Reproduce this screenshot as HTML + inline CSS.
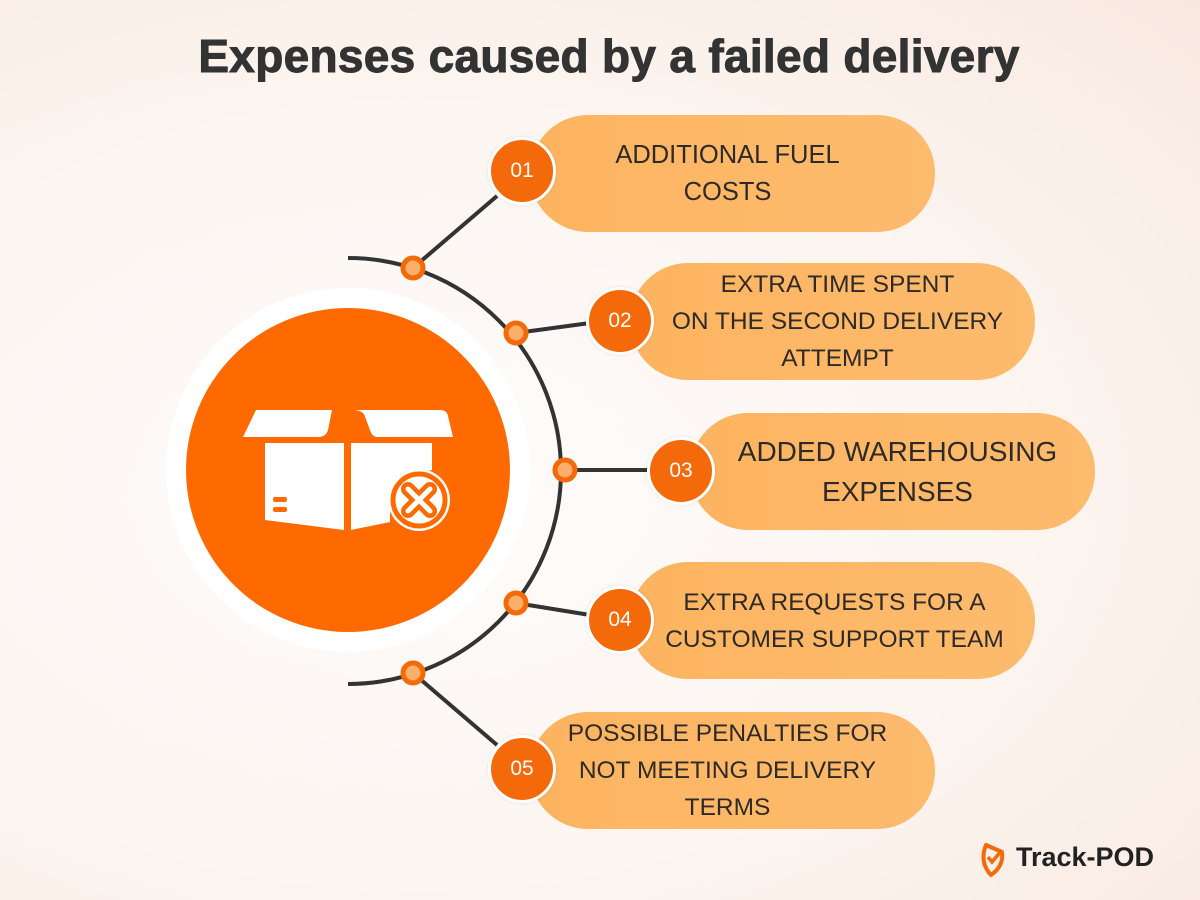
<!DOCTYPE html>
<html><head><meta charset="utf-8"><style>
body{margin:0;width:1200px;height:900px;overflow:hidden;background:radial-gradient(ellipse at 35% 55%,#fefcfb 0%,#fcf5f0 55%,#f8e9e0 100%);font-family:"Liberation Sans",sans-serif;position:relative}
h1{position:absolute;top:29px;left:9px;width:1200px;text-align:center;margin:0;font-size:46px;font-weight:bold;color:#333;letter-spacing:0.3px;-webkit-text-stroke:1px #333}
.pill{position:absolute;width:405px;height:117px;border-radius:58px;background:linear-gradient(90deg,#fdb460,#fdbb6e);display:flex;align-items:center;justify-content:center;text-align:center;color:#2e2a28;font-size:25.5px;line-height:37px;box-sizing:border-box}
.num{position:absolute;width:62px;height:62px;border-radius:50%;background:#f46a0a;border:3px solid #fff;color:#fff;font-size:21px;display:flex;align-items:center;justify-content:center;box-shadow:0 0 3px rgba(0,0,0,.1)}
</style></head><body>
<h1>Expenses caused by a failed delivery</h1>
<svg width="1200" height="900" style="position:absolute;left:0;top:0">
<circle cx="348" cy="470" r="182" fill="#fff"/>
<circle cx="348" cy="470" r="162" fill="#fe6a00"/>
<path d="M350 258 A212 212 0 0 1 350 684" fill="none" stroke="#333" stroke-width="4" transform="translate(-2 0)"/>
<g stroke="#333" stroke-width="4">
<line x1="413" y1="268" x2="497" y2="196"/><line x1="516" y1="333" x2="590" y2="323"/>
<line x1="565" y1="470" x2="650" y2="470"/><line x1="516" y1="603" x2="590" y2="615"/>
<line x1="413" y1="673" x2="497" y2="745"/></g>
<g fill="#fcae6a" stroke="#f46a0a" stroke-width="5">
<circle cx="413" cy="268" r="10"/><circle cx="516" cy="333" r="10"/><circle cx="565" cy="470" r="10"/><circle cx="516" cy="603" r="10"/><circle cx="413" cy="673" r="10"/></g>
<g fill="#fff">
<path d="M256 410 L332 410 L328 430 Q326 437 318 437 L243 437 Z"/>
<path d="M348 410 L440 410 Q447 410 448 416 L453 437 L378 437 Q372 437 370 430 L364 414 Q360 410 354 410Z"/>
<path d="M265 443 L344 443 L344 530 L265 520Z"/>
<path d="M351 443 L432 443 L432 470 Q392 478 390 512 L390 522 L351 530Z"/>
<circle cx="419" cy="500" r="31"/>
<rect x="273" y="497" width="14" height="5" rx="2" fill="#fe6a00"/><rect x="273" y="507" width="14" height="5" rx="2" fill="#fe6a00"/>
</g>
<circle cx="419" cy="500" r="26" fill="none" stroke="#fe6a00" stroke-width="5"/>
<g stroke="#fe6a00" stroke-width="14" stroke-linecap="round"><line x1="408" y1="489" x2="430" y2="511"/><line x1="430" y1="489" x2="408" y2="511"/></g>
<g stroke="#fff" stroke-width="5" stroke-linecap="round"><line x1="408" y1="489" x2="430" y2="511"/><line x1="430" y1="489" x2="408" y2="511"/></g>
<path d="M986 845 L1002 852 Q1004 866 991 875 Q979 862 986 845Z" fill="none" stroke="#f46a0a" stroke-width="4" stroke-linejoin="round"/>
<path d="M988 857 L992 862 L1002 850" fill="none" stroke="#f46a0a" stroke-width="3.5"/>
</svg>
<div class="pill" style="left:530px;top:115px;padding-right:10px">ADDITIONAL FUEL<br>COSTS</div>
<div class="pill" style="left:630px;top:263px;padding-left:10px;font-size:24.5px">EXTRA TIME SPENT<br>ON THE SECOND DELIVERY<br>ATTEMPT</div>
<div class="pill" style="left:690px;top:413px;font-size:28px;line-height:40px;padding-left:10px">ADDED WAREHOUSING<br>EXPENSES</div>
<div class="pill" style="left:630px;top:562px;padding-left:4px;font-size:24.5px">EXTRA REQUESTS FOR A<br>CUSTOMER SUPPORT TEAM</div>
<div class="pill" style="left:530px;top:712px;padding-right:10px;font-size:24.5px">POSSIBLE PENALTIES FOR<br>NOT MEETING DELIVERY<br>TERMS</div>
<div class="num" style="left:488px;top:137px">01</div>
<div class="num" style="left:586px;top:287px">02</div>
<div class="num" style="left:647px;top:437px">03</div>
<div class="num" style="left:586px;top:586px">04</div>
<div class="num" style="left:488px;top:735px">05</div>
<div style="position:absolute;left:1016px;top:842px;font-size:27px;font-weight:bold;color:#222">Track-POD</div>
</body></html>
